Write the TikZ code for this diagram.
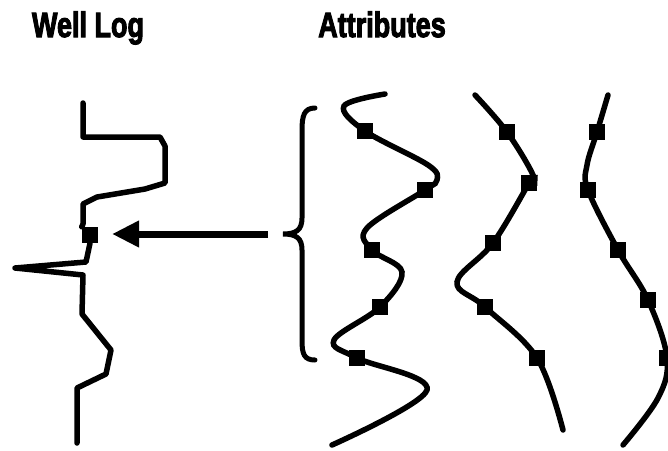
\documentclass[tikz,border=0pt]{standalone}
\usepackage{fontspec}
\setmainfont{Liberation Sans}
\usetikzlibrary{arrows.meta}
% heavier strokes for the headings (fill and outline the glyphs)
\newcommand{\heavytext}[1]{\special{pdf:literal direct 2 Tr 0.9 w}#1\special{pdf:literal direct 0 Tr}}
\begin{document}
\begin{tikzpicture}[x=1pt,y=-1pt,
  trace/.style={line width=5.5pt,line join=round,line cap=round},
  curve/.style={line width=5.5pt,line cap=round},
  sample/.style={fill=black,minimum size=16.5pt,inner sep=0pt,outer sep=0pt},
  title/.style={anchor=base,inner sep=0pt,font=\bfseries\fontsize{27}{30}\selectfont}]
\useasboundingbox (0,0) rectangle (668,450);

% headings
\node[title] (hlog) at (88,37) {\scalebox{1}[1.3]{\heavytext{Well Log}}};
\node[title] (hatt) at (382,37) {\scalebox{1}[1.3]{\heavytext{Attributes}}};

% well log trace
\node[sample] (w) at (90,235) {};
\draw[trace] (83,103) -- (83,137) -- (160,137) -- (165,146) -- (165,183) -- (145,189)
  -- (97,197) -- (83,204) -- (83,224) -- (w.north west)
  (w.south) -- (86,262) -- (15,268) -- (83,275) -- (82,314) -- (111,350) -- (106,374)
  -- (77,388) -- (77,443);

% brace grouping the attribute samples
\coordinate (btop) at (315,108);
\coordinate (bbot) at (315,360);
\coordinate (btip) at (283,234);
\draw[line width=5pt,line cap=round] (btop) .. controls (304,108) and (302,116) .. (302,130)
  -- (302,218) .. controls (302,230) and (296,234) .. (btip)
  .. controls (296,234) and (302,238) .. (302,250)
  -- (302,340) .. controls (302,354) and (304,360) .. (bbot);

% arrow from the brace towards the log sample
\coordinate (astart) at (268,234);
\coordinate (aend) at (112,234);
\draw[line width=7pt,-{Triangle[length=27pt,width=25pt]}] (astart) -- (aend);

% attribute curve 1
\node[sample] (a1) at (365,131) {};
\node[sample] (a2) at (425,190) {};
\node[sample] (a3) at (372,250) {};
\node[sample] (a4) at (380,307) {};
\node[sample] (a5) at (357,358) {};
\draw[curve] plot[smooth,tension=0.6] coordinates {(385,94) (344,106) (a1) (428,165) (437,180) (a2)
  (367,228) (a3) (402,272) (a4) (334,340) (a5) (427,390) (332,445)};

% attribute curve 2
\node[sample] (b1) at (507,132) {};
\node[sample] (b2) at (529,183) {};
\node[sample] (b3) at (493,243) {};
\node[sample] (b4) at (485,307) {};
\node[sample] (b5) at (537,358) {};
\draw[curve] plot[smooth,tension=0.6] coordinates {(475,95) (b1) (533,175) (b2) (b3) (457,282)
  (b4) (b5) (563,430)};

% attribute curve 3
\node[sample] (c1) at (597,132) {};
\node[sample] (c2) at (588,190) {};
\node[sample] (c3) at (618,250) {};
\node[sample] (c4) at (648,300) {};
\node[sample] (c5) at (667,358) {};
\draw[curve] plot[smooth,tension=0.6] coordinates {(608,95) (c1) (587,165) (c2) (c3) (c4)
  (c5) (658,398) (623,445)};
\end{tikzpicture}
\end{document}
